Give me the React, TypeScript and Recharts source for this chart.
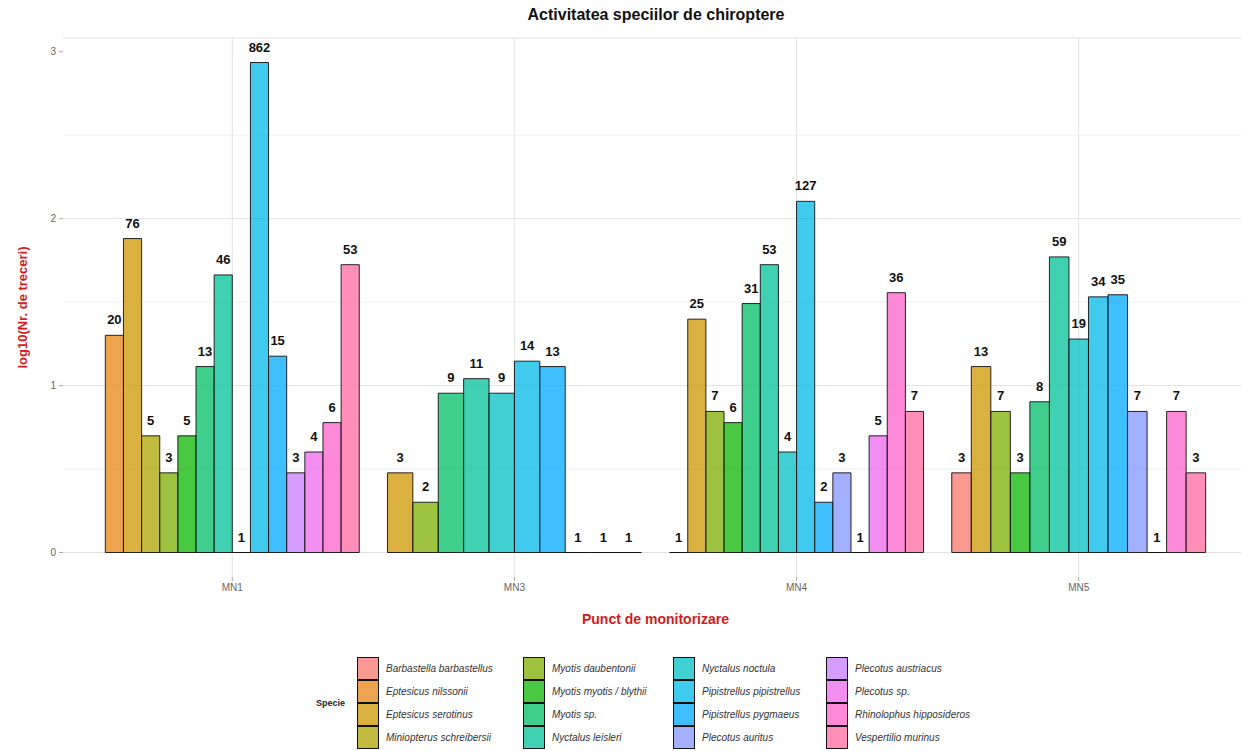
import React from 'react';
import {
  ComposedChart,
  XAxis,
  YAxis,
  CartesianGrid,
  ReferenceArea,
  Legend,
} from 'recharts';

const GROUPS = ['MN1', 'MN3', 'MN4', 'MN5'];

const SPECIES = [
  'Barbastella barbastellus',
  'Eptesicus nilssonii',
  'Eptesicus serotinus',
  'Miniopterus schreibersii',
  'Myotis daubentonii',
  'Myotis myotis / blythii',
  'Myotis sp.',
  'Nyctalus leisleri',
  'Nyctalus noctula',
  'Pipistrellus pipistrellus',
  'Pipistrellus pygmaeus',
  'Plecotus auritus',
  'Plecotus austriacus',
  'Plecotus sp.',
  'Rhinolophus hipposideros',
  'Vespertilio murinus',
];

const COLORS = [
  '#F8766D', '#E68613', '#CD9600', '#ABA300',
  '#7CAE00', '#0CB702', '#00BE67', '#00C19A',
  '#00BFC4', '#00B8E7', '#00A9FF', '#8494FF',
  '#C77CFF', '#ED68ED', '#FF61CC', '#FF68A1',
];

// counts per species (same order as SPECIES), null = not recorded
const MN1 = [null, 20, 76, 5, 3, 5, 13, 46, 1, 862, 15, null, 3, 4, 6, 53];
const MN3 = [null, null, 3, null, 2, null, 9, 11, 9, 14, 13, 1, null, 1, null, 1];
const MN4 = [null, 1, 25, null, 7, 6, 31, 53, 4, 127, 2, 3, 1, 5, 36, 7];
const MN5 = [3, null, 13, null, 7, 3, 8, 59, 19, 34, 35, 7, 1, null, 7, 3];
const COUNTS = [MN1, MN3, MN4, MN5];

const Y_TICKS = [0, 1, 2, 3];
const Y_MINOR = [0.5, 1.5, 2.5];

const FONT = '"Liberation Sans", Arial, Helvetica, sans-serif';
const ALPHA = 0.75;
const DODGE = 0.9;

type BarRow = { key: string; x1: number; x2: number; xc: number; y: number; n: number; color: string };

const bars: BarRow[] = GROUPS.flatMap((g, gi) => {
  const present = SPECIES.map((s, si) => ({ si, n: COUNTS[gi][si] })).filter((d) => d.n != null) as { si: number; n: number }[];
  const w = DODGE / present.length;
  const start = gi + 1 - DODGE / 2;
  return present.map((d, k) => ({
    key: `${g}-${d.si}`,
    x1: start + k * w,
    x2: start + (k + 1) * w,
    xc: start + (k + 0.5) * w,
    y: Math.log10(d.n),
    n: d.n,
    color: COLORS[d.si],
  }));
});

const yMax = Math.max(...bars.map((b) => b.y));
const Y_DOMAIN: [number, number] = [-0.05 * yMax, 1.05 * yMax];

const LEGEND_COL_WIDTHS = [166, 150, 153, 175];

function SpeciesLegend() {
  const cols = [0, 1, 2, 3].map((c) => SPECIES.map((s, i) => i).slice(c * 4, c * 4 + 4));
  return (
    <div style={{ display: 'flex', alignItems: 'center', fontFamily: FONT }}>
      <div style={{ width: 41, fontSize: 9, fontWeight: 'bold', color: '#222' }}>Specie</div>
      {cols.map((col, ci) => (
        <div key={ci} style={{ width: LEGEND_COL_WIDTHS[ci], display: 'flex', flexDirection: 'column' }}>
          {col.map((si) => (
            <div key={si} style={{ display: 'flex', alignItems: 'center', height: 23 }}>
              <div
                style={{
                  width: 22,
                  height: 23,
                  boxSizing: 'border-box',
                  border: '1px solid #111',
                  position: 'relative',
                  flex: 'none',
                }}
              >
                <div style={{ position: 'absolute', inset: 0, background: COLORS[si], opacity: ALPHA }} />
              </div>
              <span style={{ marginLeft: 7, fontSize: 10, fontStyle: 'italic', color: '#333', whiteSpace: 'nowrap' }}>
                {SPECIES[si]}
              </span>
            </div>
          ))}
        </div>
      ))}
    </div>
  );
}

const barShape = (color: string) => (p: any) => (
  <path
    d={`M${p.x},${p.y}h${p.width}v${p.height}h${-p.width}Z`}
    fill={color}
    fillOpacity={ALPHA}
    stroke="#111"
    strokeWidth={0.9}
  />
);

export default function App() {
  return (
    <div
      style={{
        position: 'absolute',
        left: 0,
        top: 0,
        width: 1241,
        height: 751,
        overflow: 'hidden',
        background: '#fff',
        fontFamily: FONT,
      }}
    >
      <div
        style={{
          position: 'absolute',
          left: 64,
          width: 1184,
          top: 4,
          lineHeight: '22px',
          textAlign: 'center',
          fontSize: 16,
          fontWeight: 'bold',
          color: '#111',
          fontFamily: FONT,
          zIndex: 2,
        }}
      >
        Activitatea speciilor de chiroptere
      </div>
      <ComposedChart
        width={1260}
        height={751}
        data={bars}
        margin={{ top: 38, right: 12, bottom: 144, left: 33 }}
        style={{ fontFamily: FONT }}
      >
        <CartesianGrid
          stroke="#f1f1f1"
          strokeWidth={1}
          vertical={false}
          horizontalValues={Y_MINOR}
        />
        <CartesianGrid
          stroke="#e3e3e3"
          strokeWidth={1}
          horizontalValues={[...Y_TICKS, Y_DOMAIN[1]]}
          verticalValues={[1, 2, 3, 4]}
        />
        <XAxis
          type="number"
          dataKey="xc"
          domain={[0.4, 4.6]}
          allowDataOverflow
          ticks={[1, 2, 3, 4]}
          tickFormatter={(v: number) => GROUPS[v - 1]}
          height={30}
          axisLine={false}
          tickLine={{ stroke: '#aaa' }}
          tickSize={4}
          tickMargin={3}
          tick={{ fill: '#666', fontSize: 10 }}
          label={{
            value: 'Punct de monitorizare',
            position: 'bottom',
            offset: 7,
            fill: '#d01c1c',
            fontSize: 14,
            fontWeight: 'bold',
          }}
        />
        <YAxis
          type="number"
          dataKey="y"
          domain={Y_DOMAIN}
          allowDataOverflow
          ticks={Y_TICKS}
          width={30}
          axisLine={false}
          tickLine={{ stroke: '#aaa' }}
          tickSize={4}
          tickMargin={3}
          tick={{ fill: '#666', fontSize: 10 }}
          label={{
            content: ({ viewBox }: any) => {
              const cx = viewBox.x - 11;
              const cy = viewBox.y + viewBox.height / 2;
              return (
                <text
                  x={cx}
                  y={cy}
                  transform={`rotate(-90 ${cx} ${cy})`}
                  textAnchor="middle"
                  dominantBaseline="central"
                  fill="#d01c1c"
                  fontSize={13}
                  fontWeight="bold"
                  fontFamily={FONT}
                >
                  log10(Nr. de treceri)
                </text>
              );
            },
          }}
        />
        {bars.map((b) => (
          <ReferenceArea
            key={`bar-${b.key}`}
            x1={b.x1}
            x2={b.x2}
            y1={0}
            y2={b.y}
            ifOverflow="visible"
            shape={barShape(b.color)}
          />
        ))}
        {bars.map((b) => (
          <ReferenceArea
            key={`lab-${b.key}`}
            x1={b.x1}
            x2={b.x2}
            y1={b.y}
            y2={b.y}
            ifOverflow="visible"
            shape={() => null}
            label={{
              value: String(b.n),
              position: 'top',
              offset: 11,
              fill: '#111',
              fontSize: 13,
              fontWeight: 'bold',
            }}
          />
        ))}
        <Legend
          layout="horizontal"
          verticalAlign="middle"
          align="center"
          wrapperStyle={{ left: 316, top: 657, width: 800, height: 94 }}
          content={() => <SpeciesLegend />}
        />
      </ComposedChart>
    </div>
  );
}
